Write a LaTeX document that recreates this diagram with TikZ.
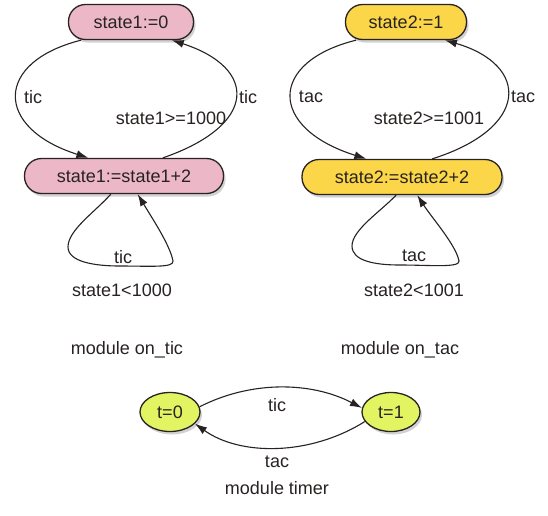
\documentclass[tikz,border=0pt]{standalone}
\usepackage{fontspec}
\setmainfont{Liberation Sans}
\usetikzlibrary{arrows.meta,shadows,shapes.geometric}
\definecolor{pinkfill}{RGB}{236,184,200}
\definecolor{yellowfill}{RGB}{250,214,72}
\definecolor{greenfill}{RGB}{226,244,98}
\definecolor{inkc}{RGB}{40,34,34}
\begin{document}
\begin{tikzpicture}[x=1pt,y=-1pt,
  every node/.style={font=\fontsize{18}{21}\selectfont, text=inkc},
  statebox/.style={draw=inkc, line width=1.3pt, rounded corners=17pt, minimum height=35pt, inner sep=0pt,
    drop shadow={shadow xshift=2pt, shadow yshift=-3pt, opacity=0.35, fill=gray}},
  pinkbox/.style={statebox, fill=pinkfill},
  yellowbox/.style={statebox, fill=yellowfill},
  timerstate/.style={draw=inkc, line width=1.3pt, ellipse, fill=greenfill, minimum height=39pt, inner sep=0pt,
    drop shadow={shadow xshift=2pt, shadow yshift=-3pt, opacity=0.35, fill=gray}},
  trans/.style={draw=inkc, line width=1.1pt, -{Latex[length=12pt,width=8pt]}},
  lbl/.style={inner sep=0pt}
]
\useasboundingbox[fill=white] (0,0) rectangle (548,515);

% module on_tic
\node[pinkbox, minimum width=125pt] (a0) at (131,22) {state1:=0};
\node[pinkbox, minimum width=199pt] (a1) at (124,176) {state1:=state1+2};
\draw[trans] (a0.200) .. controls (-6,62) and (-6,128) .. (a1.153);
\draw[trans] (a1.25) .. controls (258,125) and (258,68) .. (a0.-24);
\draw[trans] (a1.-126) .. controls (95,212) and (68,230) .. (68,247)
  .. controls (68,262) and (95,266) .. (120,266)
  .. controls (150,266) and (174,268) .. (173,261)
  .. controls (170,245) and (152,218) .. (a1.-53);
\node[lbl] (la1) at (33,97) {tic};
\node[lbl] (la2) at (248,97) {tic};
\node[lbl] (la3) at (171,118) {state1>=1000};
\node[lbl] (la4) at (123,257) {tic};
\node[lbl] (la5) at (122,290) {state1<1000};
\node[lbl] (ma) at (127,350) {module on\_tic};

% module on_tac
\node[yellowbox, minimum width=121pt] (b0) at (406,22) {state2:=1};
\node[yellowbox, minimum width=200pt] (b1) at (402,177) {state2:=state2+2};
\draw[trans] (b0.200) .. controls (268,62) and (268,128) .. (b1.153);
\draw[trans] (b1.31) .. controls (530,128) and (530,65) .. (b0.-25);
\draw[trans] (b1.-108) .. controls (380,212) and (352,230) .. (352,246)
  .. controls (352,261) and (375,265) .. (400,265)
  .. controls (430,265) and (460,268) .. (459,261)
  .. controls (456,245) and (432,218) .. (b1.-50);
\node[lbl] (lb1) at (311,97) {tac};
\node[lbl] (lb2) at (523,97) {tac};
\node[lbl] (lb3) at (429,118) {state2>=1001};
\node[lbl] (lb4) at (414,256) {tac};
\node[lbl] (lb5) at (414,290) {state2<1001};
\node[lbl] (mb) at (400,350) {module on\_tac};

% module timer
\node[timerstate, minimum width=60pt] (t0) at (170,412) {t=0};
\node[timerstate, minimum width=58pt] (t1) at (391,412) {t=1};
\draw[trans] (t0.10) .. controls (250,381) and (310,381) .. (t1.172);
\draw[trans] (t1.200) .. controls (310,456) and (240,456) .. (t0.-25);
\node[lbl] (lt1) at (277,405) {tic};
\node[lbl] (lt2) at (277,462) {tac};
\node[lbl] (mt) at (277,488) {module timer};
\end{tikzpicture}
\end{document}
